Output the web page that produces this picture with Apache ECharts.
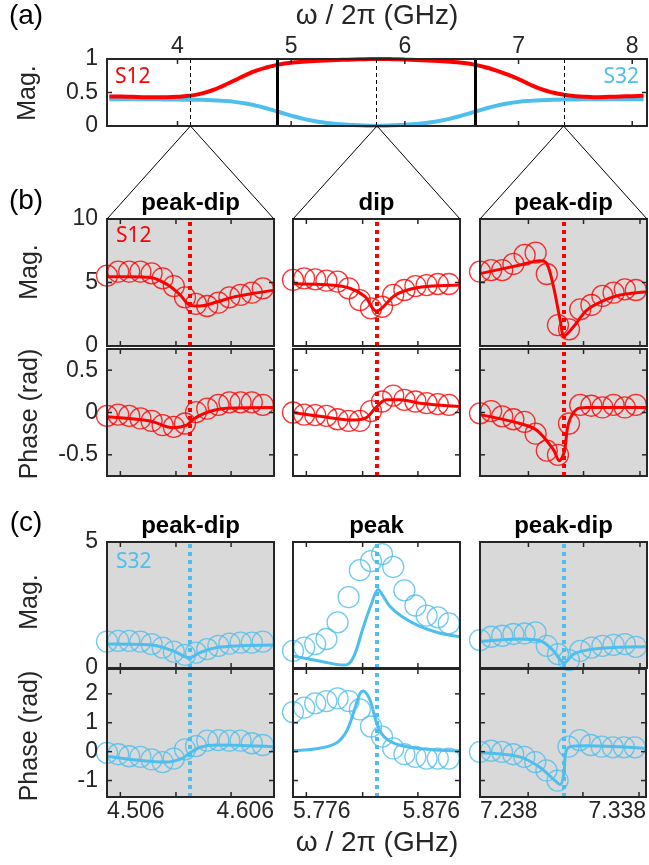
<!DOCTYPE html>
<html>
<head>
<meta charset="utf-8">
<script src="https://cdn.jsdelivr.net/npm/echarts@6/dist/echarts.min.js"></script>
<style>
html, body { margin: 0; padding: 0; background: #fff; }
#main { width: 649px; height: 865px; }
</style>
</head>
<body>
<div id="main"></div>
<script>
// ---------- (a) broadband |S| ----------
const freqA = [3.4, 3.5, 3.6, 3.7, 3.8, 3.9, 4.0, 4.1, 4.2, 4.3, 4.4, 4.5, 4.6, 4.7, 4.8, 4.9,
    5.0, 5.1, 5.2, 5.3, 5.4, 5.5, 5.6, 5.7, 5.8, 5.9, 6.0, 6.1, 6.2, 6.3, 6.4, 6.5,
    6.6, 6.7, 6.8, 6.9, 7.0, 7.1, 7.2, 7.3, 7.4, 7.5, 7.6, 7.7, 7.8, 7.9, 8.0, 8.1]
const magS12 = [0.44, 0.44, 0.435, 0.43, 0.43, 0.43, 0.435, 0.45, 0.48, 0.53, 0.6, 0.68, 0.76, 0.83, 0.88, 0.92,
    0.945, 0.96, 0.97, 0.978, 0.985, 0.99, 0.995, 1.0, 1.0, 0.997, 0.992, 0.986, 0.978, 0.97, 0.96, 0.945,
    0.92, 0.88, 0.83, 0.77, 0.7, 0.62, 0.55, 0.5, 0.465, 0.445, 0.435, 0.43, 0.435, 0.44, 0.445, 0.45]
const magS32 = [0.4, 0.4, 0.4, 0.4, 0.4, 0.395, 0.395, 0.39, 0.39, 0.385, 0.375, 0.36, 0.335, 0.3, 0.255, 0.205,
    0.155, 0.11, 0.075, 0.05, 0.03, 0.018, 0.01, 0.005, 0.005, 0.01, 0.018, 0.03, 0.05, 0.075, 0.11, 0.155,
    0.205, 0.255, 0.3, 0.335, 0.36, 0.375, 0.385, 0.39, 0.395, 0.395, 0.4, 0.4, 0.4, 0.4, 0.4, 0.4]
const freqTicksA = [4, 5, 6, 7, 8]
const dashFreqA = [4.114, 5.755, 7.396]   // zoom windows
const edgeFreqA = [4.884, 6.617]          // band edges

// ---------- (b), (c) zoom windows, x = MHz offset from window start ----------
const winStart = [4.506, 5.776, 7.238]
const titlesB = ["peak-dip", "dip", "peak-dip"]
const titlesC = ["peak-dip", "peak", "peak-dip"]
const shaded = [true, false, true]
const ptX = [0, 6.7, 13.3, 20, 26.7, 33.3, 40, 46.7, 53.3, 60, 66.7, 73.3, 80, 86.7, 93.3]
const dipX = [49.7, 50, 50.3]
const minorTicks = [[8, 41.3, 74.3], [8, 41.7, 74.8], [29, 62, 95.8]]

// S12 measured (circles)
const s12Mag = [
    [5.54, 5.85, 5.85, 5.85, 5.72, 5.33, 4.72, 3.83, 3.31, 3.15, 3.41, 3.83, 4.02, 4.2, 4.54],
    [5.2, 5.33, 5.25, 5.14, 5.07, 4.54, 3.62, 2.96, 3.09, 4.02, 4.41, 4.72, 4.8, 4.88, 4.88],
    [5.85, 5.98, 5.98, 6.46, 7.17, 7.35, 5.67, 1.65, 1.31, 2.89, 3.23, 3.94, 4.2, 4.46, 4.41],
]
const s12Phase = [
    [-0.04, -0.025, -0.04, -0.07, -0.1, -0.15, -0.17, -0.13, 0.005, 0.045, 0.09, 0.12, 0.12, 0.12, 0.09],
    [0.0, -0.025, -0.03, -0.04, -0.08, -0.1, -0.1, 0.017, 0.13, 0.2, 0.15, 0.13, 0.11, 0.1, 0.09],
    [-0.01, 0.017, -0.046, -0.08, -0.11, -0.25, -0.45, -0.5, -0.13, 0.09, 0.08, 0.06, 0.09, 0.06, 0.09],
]
// S12 model (lines)
const s12MagFit = [
    [[0, 5.45], [15, 5.45], [26, 5.4], [36, 4.85], [44, 4.0], [49.7, 3.2], [55.7, 3.15], [65.7, 3.46], [75.6, 3.85], [85.6, 4.1], [100, 4.4]],
    [[0, 4.9], [22, 4.8], [34, 4.55], [43, 3.9], [50, 2.75], [60.5, 3.94], [67, 4.35], [76, 4.62], [88, 4.75], [100, 4.8]],
    [[0, 5.7], [24, 6.38], [36, 6.72], [40, 6.5], [44, 4.67], [48, 2.05], [50.5, 0.79], [56, 1.52], [64, 2.83], [74, 3.57], [84, 4.02], [100, 4.28]],
]
const s12PhaseFit = [
    [[0, -0.05], [25.7, -0.1], [39.7, -0.18], [47.7, -0.15], [51.7, -0.08], [59.7, 0.0], [71.7, 0.05], [100, 0.06]],
    [[0, 0.0], [16, -0.045], [36, -0.09], [44, -0.06], [49, 0.045], [56, 0.15], [64, 0.15], [76, 0.11], [100, 0.07]],
    [[0, -0.025], [24, -0.13], [34, -0.21], [44, -0.44], [47.5, -0.57], [50.5, -0.46], [53, -0.13], [58, 0.04], [64, 0.06], [100, 0.06]],
]

// S32 measured (circles)
const s32Mag = [
    [1.05, 1.08, 1.08, 1.05, 0.95, 0.81, 0.65, 0.52, 0.61, 0.75, 0.88, 0.97, 1.01, 1.01, 1.05],
    [0.68, 0.81, 0.95, 1.15, 1.81, 2.81, 3.88, 4.24, 4.52, 4.01, 3.08, 2.48, 2.08, 2.01, 1.77],
    [1.11, 1.24, 1.28, 1.35, 1.37, 1.41, 0.88, 0.55, 0.31, 0.68, 0.81, 0.88, 0.92, 0.95, 0.84],
]
const s32Phase = [
    [-0.04, -0.09, -0.16, -0.18, -0.27, -0.36, -0.24, 0.08, 0.19, 0.38, 0.4, 0.38, 0.38, 0.29, 0.23],
    [1.37, 1.52, 1.67, 1.75, 1.84, 1.75, 1.46, 0.87, 0.52, 0.11, -0.09, -0.18, -0.24, -0.24, -0.24],
    [-0.01, 0.03, -0.01, -0.09, -0.18, -0.36, -0.65, -1.0, 0.17, 0.4, 0.23, 0.17, 0.15, 0.15, 0.15],
]
// S32 model (lines)
const s32MagFit = [
    [[0, 0.95], [25.7, 0.92], [39.7, 0.68], [49.3, 0.41], [55.7, 0.61], [65.7, 0.81], [79.6, 0.88], [100, 0.91]],
    [[0, 0.48], [10, 0.35], [20, 0.22], [30, 0.12], [33, 0.15], [37, 0.55], [42, 1.6], [47, 2.55], [51, 3.12], [54, 2.85], [58, 2.45], [65, 2.05], [75, 1.68], [87, 1.4], [100, 1.24]],
    [[0, 1.05], [24, 1.15], [36, 1.08], [44, 0.68], [50.5, 0.21], [56, 0.55], [64, 0.71], [80, 0.81], [100, 0.84]],
]
const s32PhaseFit = [
    [[0, -0.16], [35.7, -0.36], [44.7, -0.24], [49.3, -0.06], [55.7, 0.15], [65.7, 0.23], [100, 0.17]],
    [[0, 0.03], [16, 0.12], [26, 0.3], [32, 0.7], [36, 1.3], [40, 2.0], [42, 2.1], [46, 1.8], [50, 1.0], [54, 0.55], [60, 0.3], [70, 0.15], [85, 0.06], [100, 0.03]],
    [[0, -0.04], [24, -0.18], [36, -0.54], [44, -0.94], [48.3, -1.14], [50.5, -0.77], [52, 0.05], [56, 0.19], [64, 0.2], [100, 0.11]],
]

// ---------- layout / style ----------
const ink = "#262626"
const red = "#ff0000"
const blue = "#4dbeee"
const gray = "#d9d9d9"
const tickFont = { fontFamily: "Liberation Sans", fontSize: 23, color: ink }
const colLeft = [107, 293, 480]
const colW = 167

const grids = [], xAxes = [], yAxes = [], series = [], panels = []

// one boxed panel = grid + 4 axes (their lines form the box)
function addPanel(box, bg, xs, ys) {
    const gi = grids.length
    grids.push({ left: box.left, top: box.top, width: box.width, height: box.height })
    panels.push({ gi, bg, xs, ys })
    const line = { show: true, onZero: false, lineStyle: { color: ink, width: 2, cap: "square" } }
    const xBase = { gridIndex: gi, type: "value", z: 10, min: xs.min, max: xs.max, axisLine: line, axisTick: { show: false }, splitLine: { show: false } }
    xAxes.push(Object.assign({}, xBase, {
        position: "bottom",
        axisLabel: xs.bottomLabels
            ? Object.assign({ customValues: xs.bottomLabels, formatter: xs.fmt, margin: 3, alignMinLabel: "left", alignMaxLabel: "right" }, tickFont)
            : { show: false },
    }))
    xAxes.push(Object.assign({}, xBase, {
        position: "top",
        axisLabel: xs.topLabels ? Object.assign({ customValues: xs.topLabels, margin: 1 }, tickFont) : { show: false },
    }))
    const yBase = { gridIndex: gi, type: "value", z: 10, min: ys.min, max: ys.max, axisLine: line, axisTick: { show: false }, splitLine: { show: false } }
    yAxes.push(Object.assign({}, yBase, { position: "left",
        axisLabel: ys.labels ? Object.assign({ customValues: ys.labels, margin: 9 }, tickFont) : { show: false } }))
    yAxes.push(Object.assign({}, yBase, { position: "right", axisLabel: { show: false } }))
    return gi
}

const axisIdx = (gi) => ({ xAxisIndex: 2 * gi, yAxisIndex: 2 * gi })

// panel (a)
const gA = addPanel({ left: 107, top: 59, width: 540, height: 67 }, "#ffffff",
    { min: 3.38, max: 8.13, ticks: freqTicksA, topLabels: freqTicksA },
    { min: 0, max: 1, ticks: [0.5], labels: [0, 0.5, 1] })
series.push({
    type: "line", ...axisIdx(gA), data: freqA.map((f, i) => [f, magS32[i]]), smooth: true, showSymbol: false,
    lineStyle: { color: blue, width: 4 }, z: 3,
    markLine: {
        silent: true, symbol: "none", label: { show: false },
        data: dashFreqA.map((f) => ({ xAxis: f, lineStyle: { color: "#000", width: 1, type: [4, 3] } }))
            .concat(edgeFreqA.map((f) => ({ xAxis: f, lineStyle: { color: "#000", width: 3, type: "solid" } }))),
    },
})
series.push({
    type: "line", ...axisIdx(gA), data: freqA.map((f, i) => [f, magS12[i]]), smooth: true, showSymbol: false,
    lineStyle: { color: red, width: 4 }, z: 4,
})

// zoom panels
const rowsB = [{ top: 219, height: 127 }, { top: 349, height: 127 }]
const rowsC = [{ top: 542, height: 126 }, { top: 669, height: 128 }]
const bMagGrid = []

function addWindow(c, row, ys, pts, fit, color, bottomLabels) {
    const xs = { min: 0, max: 100, ticks: minorTicks[c] }
    if (bottomLabels) {
        xs.bottomLabels = [0, 100]
        xs.fmt = (v) => (winStart[c] + v / 1000).toFixed(3)
    }
    const y = Object.assign({}, ys, { labels: c === 0 ? ys.labels : null })
    const gi = addPanel({ left: colLeft[c], top: row.top, width: colW, height: row.height },
        shaded[c] ? gray : "#ffffff", xs, y)
    series.push({
        type: "scatter", ...axisIdx(gi), data: ptX.map((x, i) => [x, pts[i]]),
        symbol: "circle", symbolSize: 21,
        itemStyle: { color: "rgba(0,0,0,0)", borderColor: color, borderWidth: 1.3 }, z: 3,
    })
    series.push({
        type: "line", ...axisIdx(gi), data: fit, smooth: 0.35, showSymbol: false,
        lineStyle: { color, width: 3 }, z: 4,
        markLine: {
            silent: true, symbol: "none", label: { show: false },
            lineStyle: { color, width: 4, type: [4, 4] },
            data: [{ xAxis: dipX[c] }],
        },
    })
    return gi
}

for (let c = 0; c < 3; c++) {
    bMagGrid.push(addWindow(c, rowsB[0], { min: 0, max: 10, ticks: [5], labels: [0, 5, 10] }, s12Mag[c], s12MagFit[c], red, false))
    addWindow(c, rowsB[1], { min: -0.75, max: 0.75, ticks: [-0.5, 0, 0.5], labels: [-0.5, 0, 0.5] }, s12Phase[c], s12PhaseFit[c], red, false)
    addWindow(c, rowsC[0], { min: 0, max: 5, ticks: [], labels: [0, 5] }, s32Mag[c], s32MagFit[c], blue, false)
    addWindow(c, rowsC[1], { min: -1.57, max: 2.86, ticks: [-1, 0, 1, 2], labels: [-1, 0, 1, 2] }, s32Phase[c], s32PhaseFit[c], blue, true)
}

const chart = echarts.init(document.getElementById("main"), null, { renderer: "canvas" })
chart.setOption({ animation: false, grid: grids, xAxis: xAxes, yAxis: yAxes, series })

// backgrounds, inward ticks, text, connector triangles
const txt = (text, x, y, o = {}) => ({
    type: "text", x, y, rotation: o.rot || 0, z: 100,
    style: { text, fill: o.color || "#000", font: o.font || '25px "Liberation Sans"', align: o.align || "center", verticalAlign: "middle" },
})
const seg = (x1, y1, x2, y2) => ({ type: "line", z: 50, silent: true, shape: { x1, y1, x2, y2 }, style: { stroke: ink, lineWidth: 1.5 } })
const bold = 'bold 24px "Liberation Sans"'
const tag = '21px "Noto Sans"'
const big = '28px "Liberation Sans"'
const graphics = [
    txt("(a)", 26, 16, { font: big }),
    txt("ω / 2π (GHz)", 377, 16, { font: big, color: ink }),
    txt("(b)", 26, 201, { font: big }),
    txt("(c)", 26, 523, { font: big }),
    txt("ω / 2π (GHz)", 377, 843, { font: big, color: ink }),
    txt("Mag.", 28, 93, { rot: Math.PI / 2, color: ink }),
    txt("Mag.", 30, 272, { rot: Math.PI / 2, color: ink }),
    txt("Phase (rad)", 30, 414, { rot: Math.PI / 2, color: ink }),
    txt("Mag.", 30, 602, { rot: Math.PI / 2, color: ink }),
    txt("Phase (rad)", 30, 736, { rot: Math.PI / 2, color: ink }),
    txt("S12", 115, 77, { font: tag, color: red, align: "left" }),
    txt("S32", 639, 77, { font: tag, color: blue, align: "right" }),
    txt("S12", 116, 236, { font: tag, color: red, align: "left" }),
    txt("S32", 116, 562, { font: tag, color: blue, align: "left" }),
]
const TL = 5
panels.forEach((p) => {
    const idx = axisIdx(p.gi)
    const a = chart.convertToPixel(idx, [p.xs.min, p.ys.max])
    const b = chart.convertToPixel(idx, [p.xs.max, p.ys.min])
    graphics.push({ type: "rect", z: -5, silent: true, shape: { x: a[0], y: a[1], width: b[0] - a[0], height: b[1] - a[1] }, style: { fill: p.bg } })
    p.xs.ticks.forEach((v) => {
        const x = chart.convertToPixel(idx, [v, p.ys.min])[0]
        graphics.push(seg(x, b[1], x, b[1] - TL), seg(x, a[1], x, a[1] + TL))
    })
    p.ys.ticks.forEach((v) => {
        const y = chart.convertToPixel(idx, [p.xs.min, v])[1]
        graphics.push(seg(a[0], y, a[0] + TL, y), seg(b[0], y, b[0] - TL, y))
    })
})
for (let c = 0; c < 3; c++) {
    const mid = colLeft[c] + colW / 2
    graphics.push(txt(titlesB[c], mid, 203, { font: bold }))
    graphics.push(txt(titlesC[c], mid, 526, { font: bold }))
    const apex = chart.convertToPixel(axisIdx(gA), [dashFreqA[c], 0])
    const l = chart.convertToPixel(axisIdx(bMagGrid[c]), [0, 10])
    const r = chart.convertToPixel(axisIdx(bMagGrid[c]), [100, 10])
    graphics.push({ type: "polyline", z: 90, shape: { points: [l, apex, r] }, style: { stroke: "#000", lineWidth: 1, fill: null } })
}
chart.setOption({ graphic: graphics })
</script>
</body>
</html>
